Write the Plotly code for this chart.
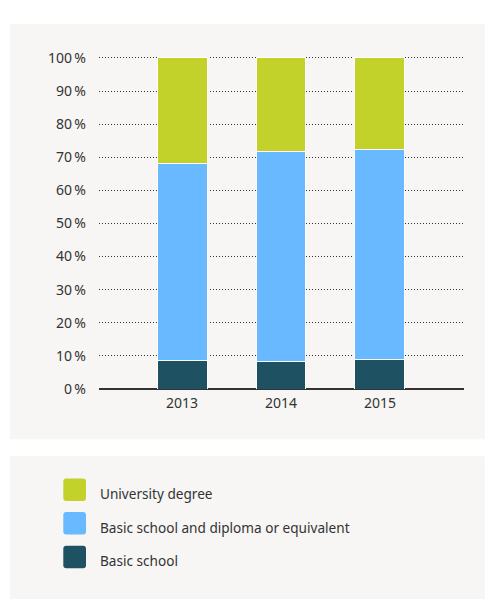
import plotly.graph_objects as go

years = ["2013", "2014", "2015"]
basic_school = [8.6, 8.2, 8.8]
basic_diploma = [59.6, 63.4, 63.6]
university = [31.8, 28.4, 27.6]
series_names = ["University degree", "Basic school and diploma or equivalent", "Basic school"]
tick_vals = [0, 10, 20, 30, 40, 50, 60, 70, 80, 90, 100]
tick_text = [f"{v}\u2009%" for v in tick_vals]

colors = {"Basic school": "#1e5262",
          "Basic school and diploma or equivalent": "#68b9ff",
          "University degree": "#c2d22b"}

OFF = 8  # page body margin
W, H = 485, 591
YMAX = 101.5
# 0 -> page y 389.5, 100 -> page y 57.5
px_per_unit = 332 / 100
L = 99 - OFF
R = W - (464 - OFF)
B = H - (389.5 - OFF)
T = (389.5 - YMAX * px_per_unit) - OFF
PH = H - T - B
PW = W - L - R
FONT = "Noto Sans"

def px_x(x):
    return (x - OFF - L) / PW

def px_y(y):
    return (T + PH - (y - OFF)) / PH

fig = go.Figure()
for name, vals in [("Basic school", basic_school),
                   ("Basic school and diploma or equivalent", basic_diploma),
                   ("University degree", university)]:
    fig.add_trace(go.Bar(x=years, y=vals, name=name,
                         marker=dict(color=colors[name], line=dict(color="#ffffff", width=1)),
                         showlegend=False))

def rrect(x0, y0, x1, y1, r):
    X = lambda v: px_x(v)
    Y = lambda v: px_y(v)
    return (f"M {X(x0+r)},{Y(y0)} L {X(x1-r)},{Y(y0)} Q {X(x1)},{Y(y0)} {X(x1)},{Y(y0+r)} "
            f"L {X(x1)},{Y(y1-r)} Q {X(x1)},{Y(y1)} {X(x1-r)},{Y(y1)} "
            f"L {X(x0+r)},{Y(y1)} Q {X(x0)},{Y(y1)} {X(x0)},{Y(y1-r)} "
            f"L {X(x0)},{Y(y0+r)} Q {X(x0)},{Y(y0)} {X(x0+r)},{Y(y0)} Z")

shapes = []
shapes.append(dict(type="rect", xref="paper", yref="paper", layer="below",
                   x0=px_x(10), x1=px_x(520), y0=px_y(440), y1=px_y(23.5),
                   fillcolor="#f7f6f4", line=dict(width=0)))
shapes.append(dict(type="rect", xref="paper", yref="paper", layer="below",
                   x0=px_x(10), x1=px_x(520), y0=px_y(620), y1=px_y(457),
                   fillcolor="#f7f6f4", line=dict(width=0)))
annotations = []
for i, name in enumerate(series_names):
    cy = 490.5 + i * 33.7
    shapes.append(dict(type="path", xref="paper", yref="paper",
                       path=rrect(63.3, cy - 11.3, 86, cy + 11.3, 3),
                       fillcolor=colors[name], line=dict(width=0)))
    annotations.append(dict(xref="paper", yref="paper", x=px_x(98), y=px_y(cy + 4),
                            text=name, showarrow=False, xanchor="left", yanchor="middle",
                            font=dict(family=FONT, size=13.6, color="#333333")))

fig.update_layout(
    width=W, height=H,
    margin=dict(l=L, r=R, t=T, b=B, pad=0),
    paper_bgcolor="#ffffff", plot_bgcolor="rgba(0,0,0,0)",
    barmode="stack", bargap=0.495,
    font=dict(family=FONT, size=13, color="#333333"),
    shapes=shapes, annotations=annotations,
    showlegend=False,
)
fig.update_xaxes(range=[-0.84, 2.85], showgrid=False, showline=False, zeroline=False,
                 ticks="", ticklabelstandoff=4, tickfont=dict(size=14, color="#333333"))
fig.update_yaxes(range=[0, YMAX], tickvals=tick_vals, ticktext=tick_text,
                 showgrid=True, gridcolor="#333333", gridwidth=1, griddash="1px,2px",
                 zeroline=True, zerolinecolor="#333333", zerolinewidth=1.5,
                 showline=False, ticks="", ticklabelstandoff=12,
                 tickfont=dict(size=14, color="#333333"))

fig.write_html("out.html")
